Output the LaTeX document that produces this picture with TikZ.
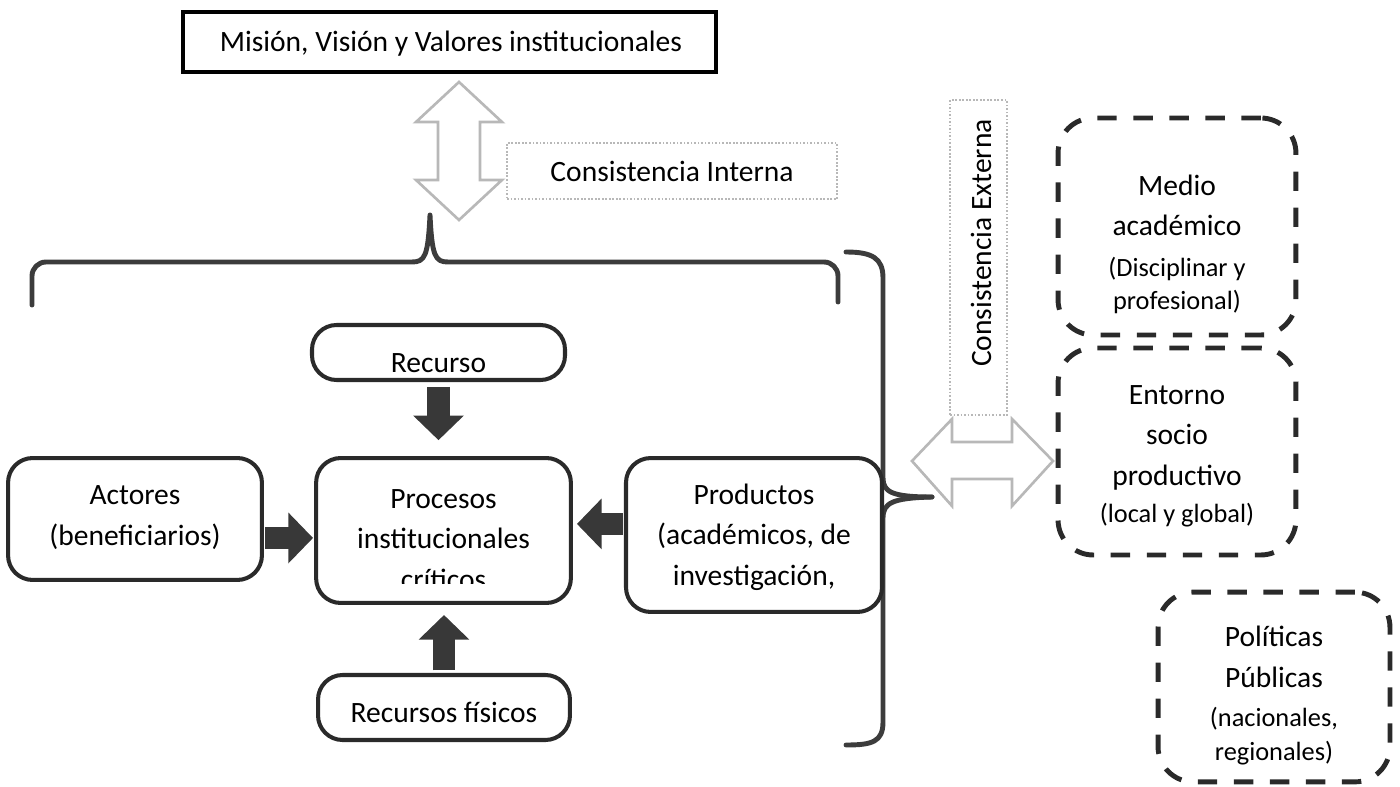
\documentclass[tikz,border=0pt]{standalone}
\usepackage{fontspec}
\setmainfont{Carlito}
\usetikzlibrary{arrows.meta,calc}
\definecolor{boxc}{HTML}{2A2A2A}
\definecolor{arrc}{HTML}{383838}
\definecolor{bracec}{HTML}{3C3C3C}
\definecolor{lgray}{HTML}{B8B8B8}
\tikzset{
  sbox/.style={draw=boxc, line width=2.3pt, rounded corners=14pt, fill=white, inner sep=0pt},
  dbox/.style={draw=boxc, line width=2.8pt, rounded corners=20pt, dash pattern=on 11pt off 9.5pt, inner sep=0pt},
  gbox/.style={draw=lgray, line width=1pt, densely dotted, inner sep=0pt},
  txt/.style={font=\fontsize{16.8}{22.8}\selectfont, align=center, inner sep=0pt, anchor=base},
  stxt/.style={font=\fontsize{15}{19.3}\selectfont, align=center, inner sep=0pt, anchor=base},
  blk/.style={draw=arrc, line width=13pt, -{Triangle[width=28pt,length=14pt]}},
  garrow/.style={draw=lgray, line width=1.5pt, fill=white, line join=miter},
  brace/.style={draw=bracec, line width=2.8pt, line cap=round, line join=round},
}
\begin{document}
\begin{tikzpicture}[x=0.02cm, y=-0.02cm]
\useasboundingbox (0,0) rectangle (1400,787);

% top box
\node[draw=black, line width=1.8pt, minimum width=303.3pt, minimum height=34.1pt, inner sep=0pt] (mision) at (449.5,42) {};
\node[txt] (misiont) at (451,52) {Misión, Visión y Valores institucionales};

% internal consistency arrow and label
\draw[garrow] (459,82) -- (502,122) -- (480,122) -- (480,180) -- (502,180) -- (459,220)
  -- (416,180) -- (438,180) -- (438,122) -- (416,122) -- cycle;
\node[gbox, minimum width=187.8pt, minimum height=31.9pt] (cibox) at (672,171) {};
\node[txt] (cit) at (672,182) {Consistencia Interna};

% top brace
\draw[brace] (32,305) -- (32,276) to[out=90,in=180] (46,262) -- (412,262)
  .. controls (425,262) and (428,256) .. (430,215)
  .. controls (432,256) and (435,262) .. (448,262) -- (824,262)
  to[out=0,in=90] (838,276) -- (838,302);

% right brace
\draw[brace] (846,252) .. controls (872,252) and (883,258) .. (883,278) -- (883,478)
  .. controls (883,492) and (892,497) .. (932,497);
\draw[brace] (932,497) .. controls (892,498) and (883,503) .. (883,518) -- (883,722)
  .. controls (883,742) and (872,745) .. (846,745);

% external consistency arrow and label
\draw[garrow] (912,461) -- (952,419) -- (952,442) -- (1012,442) -- (1012,419) -- (1053,461)
  -- (1012,506) -- (1012,479) -- (952,479) -- (952,506) -- cycle;
\node[gbox, minimum width=32.4pt, minimum height=179.2pt] (cebox) at (978.5,257.5) {};
\node[font=\fontsize{16.8}{22.8}\selectfont, inner sep=0pt, rotate=90] (cet) at (981,243) {Consistencia Externa};

% solid boxes
\node[sbox, minimum width=144pt, minimum height=31.3pt] (recurso) at (438.5,352.5) {};
\node[txt] (recursot) at (438.5,372) {Recurso};
\node[sbox, minimum width=144.5pt, minimum height=69.4pt] (actores) at (135,519) {};
\node[txt] (actorest) at (135,545) {Actores\\(beneficiarios)};
\node[sbox, minimum width=145pt, minimum height=82.5pt] (procesos) at (443.5,530.5) {};
\begin{scope}
  \clip (316,458) rectangle (571,583);
  \node[txt] (procesost) at (443.5,589) {Procesos\\institucionales\\críticos};
\end{scope}
\node[sbox, minimum width=145.7pt, minimum height=87.6pt] (productos) at (754,535) {};
\node[txt] (productost) at (754,585) {Productos\\(académicos, de\\investigación,};
\node[sbox, minimum width=143.4pt, minimum height=37pt] (fisicos) at (444,707.5) {};
\node[txt] (fisicost) at (444,722) {Recursos físicos};

% dark block arrows
\draw[blk, shorten <=2.8pt, shorten >=9pt] (recurso.south) -- (recurso.south |- procesos.north);
\draw[blk, shorten <=1.5pt, shorten >=5.7pt] (fisicos.north) -- (fisicos.north |- procesos.south);
\coordinate (a1) at ([yshift=-10.8pt]actores.east);
\draw[blk, shorten <=0.6pt, shorten >=0.6pt] (a1) -- (a1 -| procesos.west);
\coordinate (a2) at ([yshift=6.3pt]productos.west);
\draw[blk, shorten <=0.6pt, shorten >=2.3pt] (a2) -- (a2 -| procesos.east);

% dashed boxes
\node[dbox, minimum width=135.4pt, minimum height=123.5pt] (medio) at (1177,226.5) {};
\node[txt] (mediot) at (1177,236) {Medio\\académico};
\node[stxt] (medios) at (1177,310) {(Disciplinar y\\profesional)};
\node[dbox, minimum width=135.4pt, minimum height=117.8pt] (entorno) at (1177,451.5) {};
\node[txt] (entornot) at (1177,485) {Entorno\\socio\\productivo};
\node[stxt] (entornos) at (1177,522) {(local y global)};
\node[dbox, minimum width=132pt, minimum height=108pt] (politicas) at (1274,687) {};
\node[txt] (politicast) at (1274,687) {Políticas\\Públicas};
\node[stxt] (politicass) at (1274,760) {(nacionales,\\regionales)};
\end{tikzpicture}
\end{document}
